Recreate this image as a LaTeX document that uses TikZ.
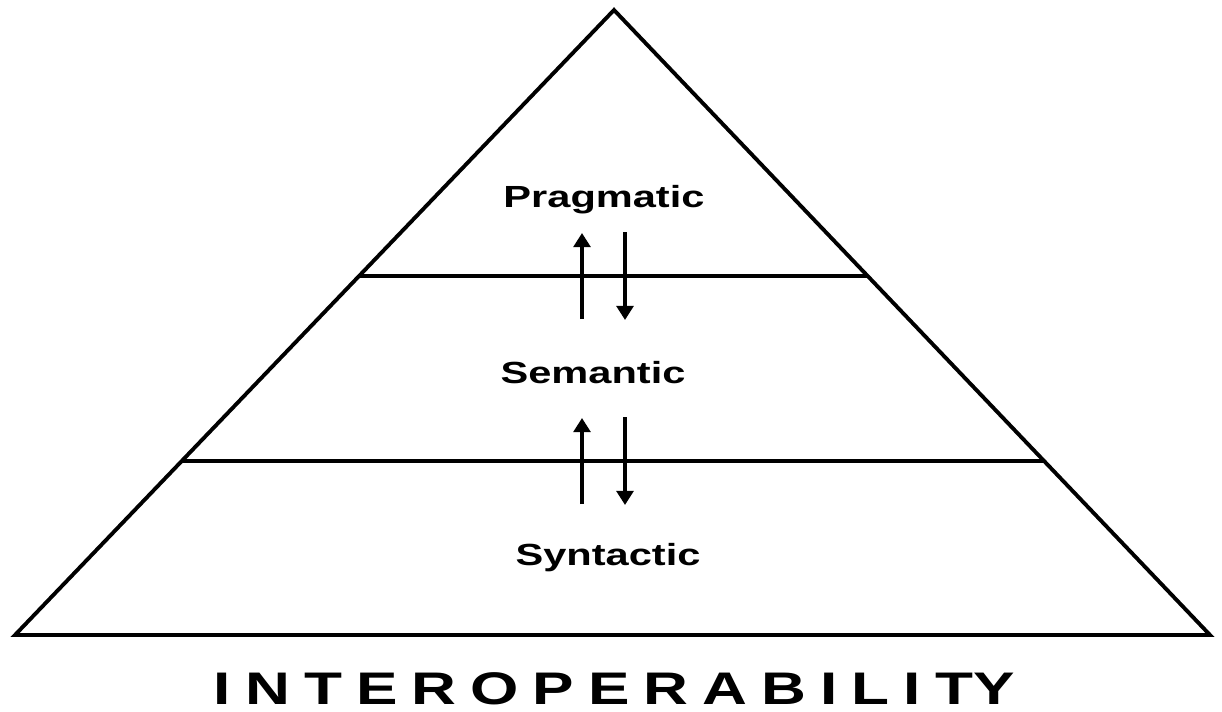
\documentclass[tikz,border=0pt]{standalone}
\usepackage{fontspec}
\setmainfont{Liberation Sans}
\usetikzlibrary{arrows.meta,calc}

\begin{document}
\begin{tikzpicture}[x=0.02cm,y=-0.02cm,line width=2.2pt,
  layer/.style={font=\bfseries\fontsize{17.4}{20}\selectfont,inner sep=0pt,anchor=base},
  updown/.style={-{Triangle[width=9.5pt,length=8pt]}}]
  \useasboundingbox (0,0) rectangle (1222,711);
  % pyramid
  \coordinate (apex) at (614,10);
  \coordinate (left) at (15,635);
  \coordinate (right) at (1210,635);
  \draw[line join=miter] (apex) -- (left) -- (right) -- cycle;
  \coordinate (upperL) at ($(apex)!0.426!(left)$);
  \coordinate (upperR) at ($(apex)!0.426!(right)$);
  \coordinate (lowerL) at ($(apex)!0.721!(left)$);
  \coordinate (lowerR) at ($(apex)!0.721!(right)$);
  \draw (upperL) -- (upperR);
  \draw (lowerL) -- (lowerR);
  % layers
  \node[layer] (pragmatic) at (604,207) {\scalebox{1.36}[1]{Pragmatic}};
  \node[layer] (semantic) at (593,383) {\scalebox{1.36}[1]{Semantic}};
  \node[layer] (syntactic) at (608,565) {\scalebox{1.36}[1]{Syntactic}};
  % arrows between layers
  \coordinate (upA) at (582,319);   \coordinate (upAtip) at (582,233);
  \coordinate (downA) at (625,232); \coordinate (downAtip) at (625,320);
  \coordinate (upB) at (582,504);   \coordinate (upBtip) at (582,418);
  \coordinate (downB) at (625,417); \coordinate (downBtip) at (625,505);
  \draw[updown] (upA) -- (upAtip);
  \draw[updown] (downA) -- (downAtip);
  \draw[updown] (upB) -- (upBtip);
  \draw[updown] (downB) -- (downBtip);
  % title
  \node[inner sep=0pt,anchor=base west,font=\bfseries\fontsize{26}{30}\selectfont] (title) at (212,704)
    {\scalebox{1.36}[1]{\addfontfeature{LetterSpace=22.6}INTEROPERABILIT\addfontfeature{LetterSpace=0}Y}};
\end{tikzpicture}
\end{document}
